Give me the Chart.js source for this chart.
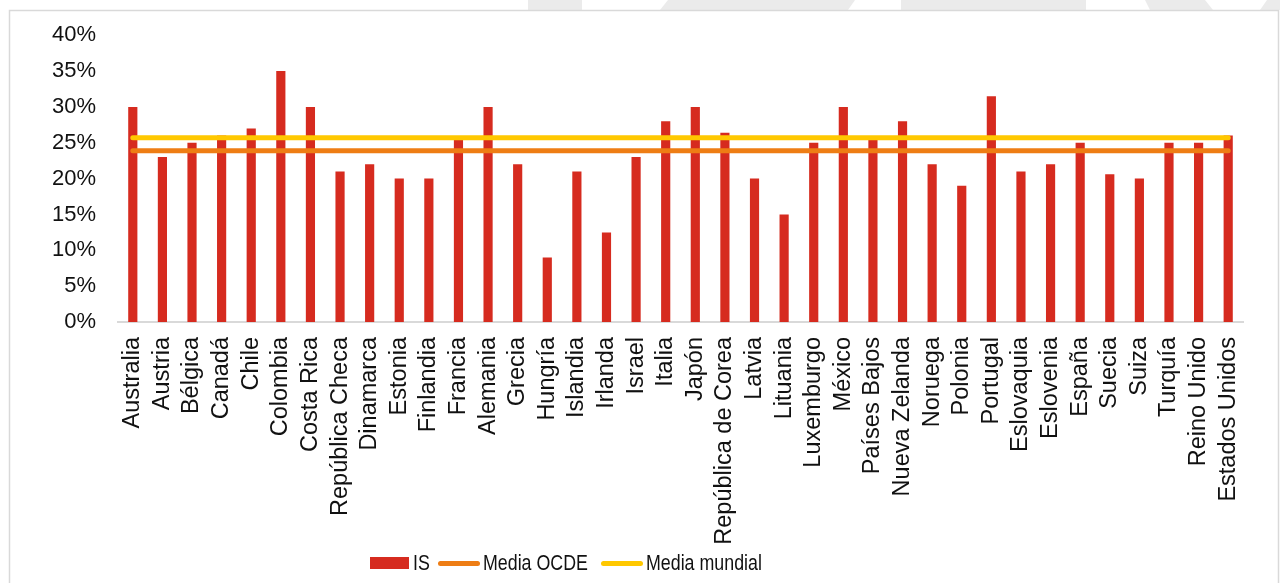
<!DOCTYPE html>
<html lang="es">
<head>
<meta charset="utf-8">
<title>IS, Media OCDE y Media mundial</title>
<script src="https://cdn.jsdelivr.net/npm/chart.js@4.4.1/dist/chart.umd.min.js"></script>
<style>
  html, body { margin: 0; padding: 0; background: #fff; }
  body {
    width: 1280px; height: 583px; overflow: hidden; position: relative;
    font-family: "Liberation Sans", Arial, sans-serif; color: #111;
  }
  #grafico-caja { position: absolute; left: 0; top: 0; width: 1280px; height: 583px; }
  .leyenda-item {
    position: absolute; top: 550px; height: 26px;
    display: flex; align-items: center; font-size: 22px; white-space: nowrap;
  }
  .leyenda-item span.txt { display: inline-block; transform: scaleX(0.81); transform-origin: left center; }
  .muestra-barra { width: 39px; height: 12px; margin-right: 4px; }
  .muestra-linea { width: 42px; height: 5px; border-radius: 3px; margin-right: 3px; }
</style>
</head>
<body>
<div id="grafico-caja"><canvas id="graficoIS"></canvas></div>

<div class="leyenda-item" style="left:370px"><span class="muestra-barra" style="background:#d62b1f"></span><span class="txt">IS</span></div>
<div class="leyenda-item" style="left:438px"><span class="muestra-linea" style="background:#ee7d14"></span><span class="txt">Media OCDE</span></div>
<div class="leyenda-item" style="left:601px"><span class="muestra-linea" style="background:#ffc800"></span><span class="txt">Media mundial</span></div>

<script>
// === Datos ===
const paises = [
    'Australia', 'Austria', 'Bélgica', 'Canadá', 'Chile', 'Colombia', 'Costa Rica',
    'República Checa', 'Dinamarca', 'Estonia', 'Finlandia', 'Francia', 'Alemania',
    'Grecia', 'Hungría', 'Islandia', 'Irlanda', 'Israel', 'Italia', 'Japón',
    'República de Corea', 'Latvia', 'Lituania', 'Luxemburgo', 'México', 'Países Bajos',
    'Nueva Zelanda', 'Noruega', 'Polonia', 'Portugal', 'Eslovaquia', 'Eslovenia',
    'España', 'Suecia', 'Suiza', 'Turquía', 'Reino Unido', 'Estados Unidos'
];

// tipo del impuesto de sociedades (%)
const tipoIS = [
    30, 23, 25, 26, 27, 35, 30,
    21, 22, 20, 20, 25.8, 30,
    22, 9, 21, 12.5, 23, 28, 30,
    26.4, 20, 15, 25, 30, 25.8,
    28, 22, 19, 31.5, 21, 22,
    25, 20.6, 20, 25, 25, 26
];

const mediaOCDE = 23.9;
const mediaMundial = 25.7;

const ticksEje = [0, 5, 10, 15, 20, 25, 30, 35, 40];

// === Fondo: franjas grises arriba y recuadro del gráfico ===
const fondoPlugin = {
    id: 'fondo',
    beforeDraw(chart) {
        const ctx = chart.ctx;
        ctx.save();
        ctx.fillStyle = '#fff';
        ctx.fillRect(0, 0, chart.width, chart.height);

        const franjas = [
            [[528, 0], [582, 0], [582, 10], [528, 10]],
            [[668, 0], [855, 0], [848, 10], [660, 10]],
            [[901, 0], [1086, 0], [1086, 10], [901, 10]],
            [[1145, 0], [1205, 0], [1213, 10], [1150, 10]],
            [[1267, 0], [1280, 0], [1280, 10], [1260, 10]]
        ];
        ctx.fillStyle = '#ebebeb';
        franjas.forEach(p => {
            ctx.beginPath();
            ctx.moveTo(p[0][0], p[0][1]);
            p.slice(1).forEach(pt => ctx.lineTo(pt[0], pt[1]));
            ctx.closePath();
            ctx.fill();
        });

        ctx.strokeStyle = '#d9d9d9';
        ctx.lineWidth = 1.5;
        ctx.strokeRect(9.5, 10.5, 1269, 600);
        ctx.restore();
    }
};

const fuente = '"Liberation Sans", Arial, sans-serif';

new Chart(document.getElementById('graficoIS').getContext('2d'), {
    type: 'bar',
    data: {
        labels: paises,
        datasets: [
            {
                label: 'Media mundial',
                type: 'line',
                data: paises.map(() => mediaMundial),
                borderColor: '#ffc800',
                borderWidth: 5,
                borderCapStyle: 'round',
                pointRadius: 0,
                fill: false,
                order: 1
            },
            {
                label: 'Media OCDE',
                type: 'line',
                data: paises.map(() => mediaOCDE),
                borderColor: '#ee7d14',
                borderWidth: 5,
                borderCapStyle: 'round',
                pointRadius: 0,
                fill: false,
                order: 2
            },
            {
                label: 'IS',
                data: tipoIS,
                backgroundColor: '#d62b1f',
                borderWidth: 0,
                categoryPercentage: 1,
                barPercentage: 0.31,
                order: 3
            }
        ]
    },
    options: {
        responsive: true,
        maintainAspectRatio: false,
        animation: false,
        layout: { padding: { top: 34, right: 37, left: 0, bottom: 0 } },
        plugins: {
            legend: { display: false },
            tooltip: { enabled: false }
        },
        scales: {
            x: {
                grid: { display: false, drawTicks: false },
                border: { display: true, color: '#d9d9d9', width: 2 },
                ticks: {
                    autoSkip: false,
                    minRotation: 90,
                    maxRotation: 90,
                    padding: 15,
                    color: '#111',
                    font: { family: fuente, size: 23.5 }
                },
                afterFit(scale) { scale.height = 261; }
            },
            y: {
                min: 0,
                max: 40,
                grid: { display: false, drawTicks: false },
                border: { display: false },
                afterBuildTicks(scale) { scale.ticks = ticksEje.map(v => ({ value: v })); },
                ticks: {
                    padding: 22,
                    color: '#111',
                    font: { family: fuente, size: 22 },
                    callback: v => v + '%'
                },
                afterFit(scale) { scale.width = 118; }
            }
        }
    },
    plugins: [fondoPlugin]
});
</script>
</body>
</html>
